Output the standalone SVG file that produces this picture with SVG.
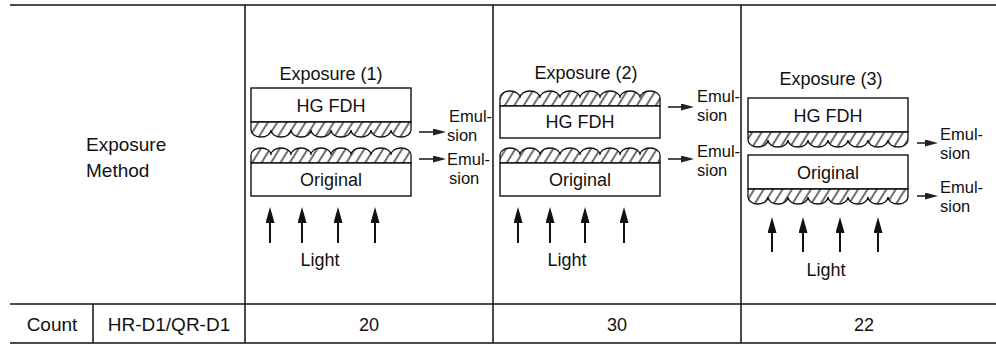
<svg xmlns="http://www.w3.org/2000/svg" width="996" height="352" viewBox="0 0 996 352">
<style>
text{font-family:"Liberation Sans",Arial,sans-serif;font-size:18px;fill:#111}
.big{font-size:19px}
.sm{font-size:16.5px}
.tbl{stroke:#111;stroke-width:1.5;fill:none}
.box{fill:#fff;stroke:#111;stroke-width:1.4}
.emu{fill:url(#hatch);stroke:#111;stroke-width:1.3}
.ea{stroke:#222;stroke-width:1.6;fill:none;marker-end:url(#eh)}
.la{stroke:#111;stroke-width:2;fill:none;marker-end:url(#lh)}
.c{text-anchor:middle}
</style>
<defs>
<pattern id="hatch" patternUnits="userSpaceOnUse" width="8" height="10" patternTransform="rotate(32)">
<rect width="8" height="10" fill="#fff"/>
<line x1="4" y1="0" x2="4" y2="10" stroke="#111" stroke-width="1.2"/>
</pattern>
<marker id="eh" markerUnits="userSpaceOnUse" markerWidth="14" markerHeight="7" refX="1" refY="3.5" orient="auto">
<path d="M0,0 L13,3.5 L0,7 z" fill="#222"/>
</marker>
<marker id="lh" markerUnits="userSpaceOnUse" markerWidth="17" markerHeight="9" refX="8" refY="4.5" orient="auto">
<path d="M0,0 L16,4.5 L0,9 z" fill="#111"/>
</marker>
</defs>

<g id="table">
<line class="tbl" x1="10" y1="5" x2="996" y2="5"/>
<line class="tbl" x1="10" y1="304" x2="996" y2="304"/>
<line class="tbl" x1="10" y1="343" x2="996" y2="343"/>
<line class="tbl" x1="245" y1="5" x2="245" y2="343"/>
<line class="tbl" x1="493" y1="5" x2="493" y2="343"/>
<line class="tbl" x1="741" y1="5" x2="741" y2="343"/>
<line class="tbl" x1="93" y1="304" x2="93" y2="343"/>
<text class="big" x="86" y="151">Exposure</text>
<text class="big" x="86" y="177">Method</text>
<text class="big c" x="52" y="331">Count</text>
<text class="big c" x="169" y="331">HR-D1/QR-D1</text>
<text class="c" x="369" y="331">20</text>
<text class="c" x="617" y="331">30</text>
<text class="c" x="864" y="331">22</text>
</g>

<g id="exposure1">
<text class="c" x="331" y="80">Exposure (1)</text>
<g id="hg1">
<rect class="box" x="251" y="88" width="160" height="34"/>
<text class="c" x="331" y="112">HG FDH</text>
<path class="emu" d="M251,122 H411 V130 a10 7 0 0 1 -20 0 a10 7 0 0 1 -20 0 a10 7 0 0 1 -20 0 a10 7 0 0 1 -20 0 a10 7 0 0 1 -20 0 a10 7 0 0 1 -20 0 a10 7 0 0 1 -20 0 a10 7 0 0 1 -20 0 Z"/>
</g>
<g id="orig1">
<path class="emu" d="M251,163 V155 a10 7 0 0 1 20 0 a10 7 0 0 1 20 0 a10 7 0 0 1 20 0 a10 7 0 0 1 20 0 a10 7 0 0 1 20 0 a10 7 0 0 1 20 0 a10 7 0 0 1 20 0 a10 7 0 0 1 20 0 V163 Z"/>
<rect class="box" x="251" y="163" width="160" height="33"/>
<text class="c" x="331" y="186">Original</text>
</g>
<text class="sm" x="449" y="122">Emul-</text>
<text class="sm" x="447" y="141">sion</text>
<text class="sm" x="447" y="165">Emul-</text>
<text class="sm" x="449" y="184">sion</text>
<text class="c" x="320" y="266">Light</text>
</g>

<g id="exposure2">
<text class="c" x="586" y="79">Exposure (2)</text>
<g id="hg2">
<path class="emu" d="M500,106 V98 a10 7 0 0 1 20 0 a10 7 0 0 1 20 0 a10 7 0 0 1 20 0 a10 7 0 0 1 20 0 a10 7 0 0 1 20 0 a10 7 0 0 1 20 0 a10 7 0 0 1 20 0 a10 7 0 0 1 20 0 V106 Z"/>
<rect class="box" x="500" y="106" width="160" height="32"/>
<text class="c" x="580" y="128">HG FDH</text>
</g>
<g id="orig2">
<path class="emu" d="M500,163 V155 a10 7 0 0 1 20 0 a10 7 0 0 1 20 0 a10 7 0 0 1 20 0 a10 7 0 0 1 20 0 a10 7 0 0 1 20 0 a10 7 0 0 1 20 0 a10 7 0 0 1 20 0 a10 7 0 0 1 20 0 V163 Z"/>
<rect class="box" x="500" y="163" width="160" height="33"/>
<text class="c" x="580" y="186">Original</text>
</g>
<text class="sm" x="697" y="102">Emul-</text>
<text class="sm" x="697" y="121">sion</text>
<text class="sm" x="697" y="157">Emul-</text>
<text class="sm" x="697" y="176">sion</text>
<text class="c" x="567" y="266">Light</text>
</g>

<g id="exposure3">
<text class="c" x="831" y="85">Exposure (3)</text>
<g id="hg3">
<rect class="box" x="748" y="98" width="160" height="34"/>
<text class="c" x="828" y="122">HG FDH</text>
<path class="emu" d="M748,132 H908 V140 a10 7 0 0 1 -20 0 a10 7 0 0 1 -20 0 a10 7 0 0 1 -20 0 a10 7 0 0 1 -20 0 a10 7 0 0 1 -20 0 a10 7 0 0 1 -20 0 a10 7 0 0 1 -20 0 a10 7 0 0 1 -20 0 Z"/>
</g>
<g id="orig3">
<rect class="box" x="748" y="155" width="160" height="34"/>
<text class="c" x="828" y="179">Original</text>
<path class="emu" d="M748,189 H908 V197 a10 7 0 0 1 -20 0 a10 7 0 0 1 -20 0 a10 7 0 0 1 -20 0 a10 7 0 0 1 -20 0 a10 7 0 0 1 -20 0 a10 7 0 0 1 -20 0 a10 7 0 0 1 -20 0 a10 7 0 0 1 -20 0 Z"/>
</g>
<text class="sm" x="940" y="140">Emul-</text>
<text class="sm" x="940" y="159">sion</text>
<text class="sm" x="940" y="193">Emul-</text>
<text class="sm" x="940" y="212">sion</text>
<text class="c" x="826" y="276">Light</text>
</g>

<g id="connectors">
<line class="ea" x1="419" y1="132" x2="434" y2="132"/>
<line class="ea" x1="419" y1="159" x2="434" y2="159"/>
<line class="ea" x1="668" y1="107" x2="682" y2="107"/>
<line class="ea" x1="668" y1="159" x2="682" y2="159"/>
<line class="ea" x1="917" y1="143" x2="926" y2="143"/>
<line class="ea" x1="917" y1="196" x2="926" y2="196"/>
<line class="la" x1="270" y1="243" x2="270" y2="215"/>
<line class="la" x1="302" y1="243" x2="302" y2="215"/>
<line class="la" x1="338" y1="243" x2="338" y2="215"/>
<line class="la" x1="375" y1="243" x2="375" y2="215"/>
<line class="la" x1="518" y1="243" x2="518" y2="215"/>
<line class="la" x1="550" y1="243" x2="550" y2="215"/>
<line class="la" x1="585" y1="243" x2="585" y2="215"/>
<line class="la" x1="624" y1="243" x2="624" y2="215"/>
<line class="la" x1="772" y1="252" x2="772" y2="225"/>
<line class="la" x1="803" y1="252" x2="803" y2="225"/>
<line class="la" x1="840" y1="252" x2="840" y2="225"/>
<line class="la" x1="878" y1="252" x2="878" y2="225"/>
</g>
</svg>
